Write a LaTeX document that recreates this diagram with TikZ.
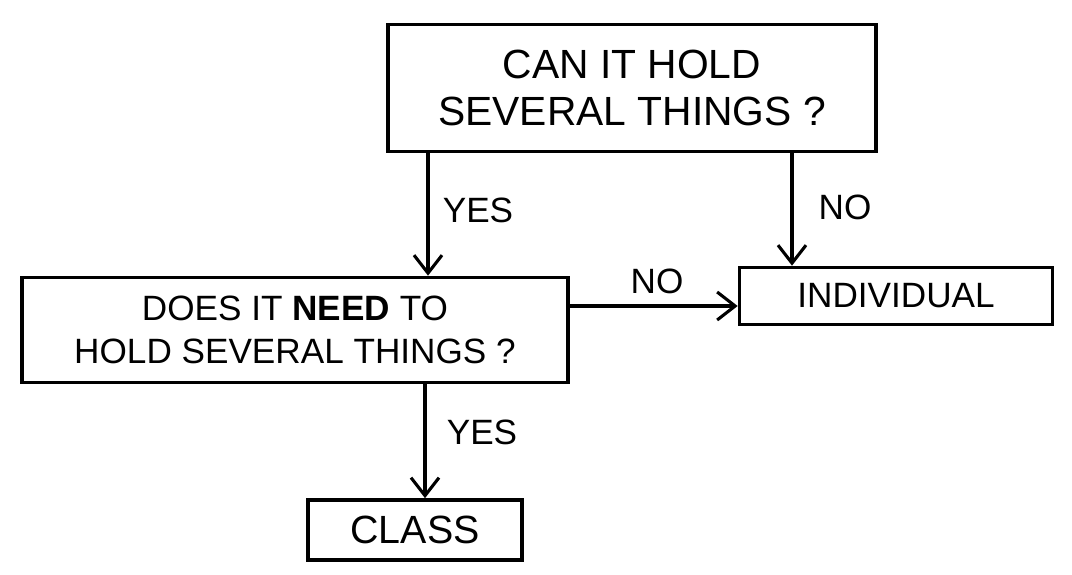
\documentclass[tikz,border=0pt]{standalone}
\usepackage{fontspec}
\setmainfont{Liberation Sans}
\usepackage{tikz}
\usetikzlibrary{positioning, arrows.meta}

\tikzset{
    qbox/.style={draw, rectangle, line width=2.6pt, align=center, inner sep=0pt},
    flowarrow/.style={-{Straight Barb[length=4.5mm, width=7mm, line width=2.2pt]}, line width=2.3pt},
    answer/.style={font=\fontsize{25}{28}\selectfont}
}

\begin{document}
\begin{tikzpicture}[x=0.025cm, y=-0.025cm]
    \useasboundingbox (0,0) rectangle (1072,574);

    % Question principale
    \node[qbox, minimum width=488*0.025cm, minimum height=127*0.025cm, font=\fontsize{29}{33}\selectfont] (hold) at (632,88) {CAN IT HOLD\\SEVERAL THINGS ?};

    % Deuxieme question
    \node[qbox, minimum width=546*0.025cm, minimum height=105*0.025cm, font=\fontsize{25}{31}\selectfont] (need) at (295,330) {DOES IT \textbf{NEED} TO\\HOLD SEVERAL THINGS ?};

    % Reponses
    \node[qbox, minimum width=313*0.025cm, minimum height=57*0.025cm, font=\fontsize{25}{28}\selectfont] (indiv) at (896,296) {INDIVIDUAL};
    \node[qbox, minimum width=214*0.025cm, minimum height=60*0.025cm, font=\fontsize{28}{30}\selectfont] (cls) at (415,530) {CLASS};

    % Colonnes des fleches
    \coordinate (yescol) at (428,0);
    \coordinate (nocol) at (792,0);
    \coordinate (lowcol) at (425,0);
    \coordinate (norow) at (0,306);

    % Fleches
    \draw[flowarrow] (hold.south -| yescol) -- (need.north -| yescol);
    \node[answer] (yes1) at (478,210) {YES};
    \draw[flowarrow] (hold.south -| nocol) -- (indiv.north -| nocol);
    \node[answer] (no1) at (845,207) {NO};
    \draw[flowarrow] (need.east |- norow) -- (indiv.west |- norow);
    \node[answer] (no2) at (657,281) {NO};
    \draw[flowarrow] (need.south -| lowcol) -- (cls.north -| lowcol);
    \node[answer] (yes2) at (482,432) {YES};
\end{tikzpicture}
\end{document}
